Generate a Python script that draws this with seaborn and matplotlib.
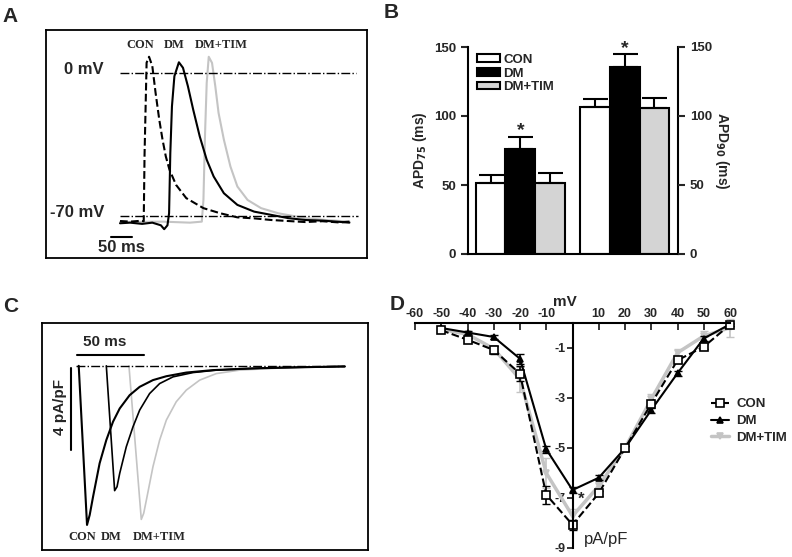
import numpy as np
import pandas as pd
import matplotlib
matplotlib.use("Agg")
import matplotlib.pyplot as plt
import seaborn as sns

sns.set_style("white")
plt.rcParams["font.family"] = ["Liberation Sans", "DejaVu Sans"]
plt.rcParams["font.weight"] = "bold"
plt.rcParams["axes.unicode_minus"] = False

# ---------- panel A: action potentials (ms, mV) ----------
a_con_t = [181, 206, 231, 239, 241, 246, 252, 260, 268, 277, 285, 293, 302, 318, 343,
           385, 426, 468, 509, 551, 593, 634, 676, 717, 742]
a_con_v = [-72.5, -72.8, -72.4, -72.6, -40, 5, 7.9, 3.3, -9.8, -22.9, -32.7, -40.9, -47.4,
           -54.8, -61.3, -66.2, -68.7, -70.7, -71.2, -72, -72.5, -73, -72.6, -73.2, -72.8]
a_dm_t = [181, 206, 235, 260, 281, 289, 297, 301, 304, 308, 314, 325, 335, 347, 360, 376,
          393, 410, 435, 468, 509, 551, 593, 634, 676, 717, 742]
a_dm_v = [-73.6, -73.3, -73.9, -73.3, -74.6, -76.5, -74.6, -68.7, -39.3, -16.4, -1.6, 5.2,
          2.5, -6.5, -18, -31.1, -42.5, -50.7, -58.9, -64.6, -67.9, -69.5, -71.1, -72.0,
          -72.3, -72.9, -73.3]
a_tim_t = [181, 285, 352, 381, 385, 389, 393, 398, 406, 414, 422, 435, 451, 468, 493, 526,
           568, 634, 684, 742]
a_tim_v = [-73, -72.8, -73.3, -72.8, -62.2, -29.4, -4.9, 7.9, 4.9, -6.5, -19.6, -32.7,
           -45.8, -55.6, -62.2, -66.2, -68.7, -71.1, -72.0, -72.8]

# ---------- panel B: APD bars ----------
apd_groups = ["CON", "DM", "DM+TIM"]
apd_measures = ["APD75", "APD90"]
apd75_mean = [51.8, 75.8, 51.8]
apd75_err = [5.7, 9.2, 6.7]
apd90_mean = [106.4, 135.6, 105.5]
apd90_err = [5.6, 9.1, 7.5]

# ---------- panel C: current traces (ms, pA/pF) ----------
c_con_t = [27.4, 33.6, 35.6, 38.1, 43.0, 48.0, 53.0, 58.0, 65.4, 72.9, 82.8, 92.8, 107.7,
           127.6, 155.0, 192.3, 225.9]
c_con_i = [0, -7.80, -7.31, -6.42, -4.78, -3.64, -2.74, -2.09, -1.44, -1.03, -0.70, -0.51,
           -0.33, -0.21, -0.13, -0.07, -0.03]
c_dm_t = [48.0, 54.2, 56.0, 58.0, 62.9, 67.9, 72.9, 80.3, 87.8, 97.8, 112.7, 130.1, 167.4, 225.9]
c_dm_i = [0, -6.12, -5.93, -5.27, -3.97, -2.99, -2.17, -1.36, -0.87, -0.54, -0.33, -0.21,
          -0.10, -0.03]
c_tim_t = [64.9, 74.1, 75.9, 77.9, 82.8, 87.8, 92.8, 100.2, 107.7, 117.7, 130.1, 147.5,
           179.9, 225.9]
c_tim_i = [0, -7.53, -7.23, -6.58, -4.95, -3.64, -2.66, -1.76, -1.19, -0.70, -0.38, -0.21,
           -0.10, -0.03]

# ---------- panel D: I-V curve ----------
mv = [-50, -40, -30, -20, -10, 0, 10, 20, 30, 40, 50, 60]
iv_con = [-0.29, -0.67, -1.08, -2.03, -6.87, -8.07, -6.81, -5.01, -3.23, -1.49, -0.95, -0.07]
iv_con_err = [0.08, 0.08, 0.15, 0.3, 0.35, 0.2, 0.1, 0.1, 0.1, 0.1, 0.1, 0.05]
iv_dm = [-0.2, -0.38, -0.56, -1.43, -5.05, -6.68, -6.19, -5.01, -3.48, -2.01, -0.62, -0.05]
iv_dm_err = [0.05, 0.05, 0.08, 0.2, 0.15, 0.12, 0.1, 0.1, 0.1, 0.1, 0.1, 0.05]
iv_tim = [-0.25, -0.45, -1.03, -2.25, -6.0, -7.72, -6.52, -5.0, -3.05, -1.19, -0.52, -0.19]
iv_tim_err = [0.05, 0.08, 0.1, 0.5, 0.6, 0.3, 0.15, 0.1, 0.2, 0.15, 0.2, 0.35]

gray = "#c4c4c4"
W, H = 792, 557
fig = plt.figure(figsize=(W / 100, H / 100), dpi=100)


def box(l, t, r, b):
    return [l / W, 1 - b / H, (r - l) / W, (b - t) / H]


serif = {"family": ["Liberation Serif", "DejaVu Serif"], "weight": "bold", "size": 9}

# ===== A =====
axA = fig.add_axes(box(46, 30, 367, 258))
sns.lineplot(x=a_tim_t, y=a_tim_v, color=gray, lw=1.5, ax=axA, sort=False)
sns.lineplot(x=a_dm_t, y=a_dm_v, color="black", lw=1.5, ax=axA, sort=False)
sns.lineplot(x=a_con_t, y=a_con_v, color="black", lw=1.5, ls="--", ax=axA, sort=False)
axA.plot([181, 759], [0, 0], color="black", lw=1, ls="-.")
axA.plot([181, 763], [-70, -70], color="black", lw=1, ls="-.")
axA.plot([160, 210], [-80.5, -80.5], color="black", lw=1.5)
axA.text(185, -85.5, "50 ms", ha="center", va="center", fontsize=12)
axA.text(92, 1.6, "0 mV", ha="center", va="center", fontsize=12)
axA.text(76, -68.2, "-70 mV", ha="center", va="center", fontsize=12)
axA.text(231, 13.9, "CON", ha="center", va="center", fontdict=serif)
axA.text(314, 13.9, "DM", ha="center", va="center", fontdict=serif)
axA.text(429, 13.9, "DM+TIM", ha="center", va="center", fontdict=serif)
axA.set_xlim(0, 785)
axA.set_ylim(-90.6, 21.0)
axA.set_xticks([])
axA.set_yticks([])
for s in axA.spines.values():
    s.set_linewidth(1.3)
    s.set_color("black")

# ===== B =====
axB = fig.add_axes(box(468, 47, 678, 254))
dfB = pd.DataFrame({
    "measure": np.repeat(apd_measures, 3),
    "group": apd_groups * 2,
    "value": apd75_mean + apd90_mean,
})
errB = {"APD75": apd75_err, "APD90": apd90_err}
sns.barplot(data=dfB, x="measure", y="value", hue="group", hue_order=apd_groups,
            palette=["white", "black", "#d4d4d4"], edgecolor="black", linewidth=1.5,
            width=0.856, errorbar=None, ax=axB)
bar_conts = list(axB.containers)
for gi, cont in enumerate(bar_conts):
    for mi, bar in enumerate(cont):
        e = errB[apd_measures[mi]][gi]
        xc = bar.get_x() + bar.get_width() / 2
        h = bar.get_height()
        axB.errorbar(xc, h, yerr=[[0], [e]], color="black", lw=1.5, capsize=9, capthick=1.5)
        if apd_groups[gi] == "DM":
            axB.text(xc, h + e - 2, "*", ha="center", va="bottom", fontsize=14)
axB.set_xlim(-0.502, 1.511)
axB.set_ylim(0, 150)
axB.set_yticks([0, 50, 100, 150])
axB.set_xticks([])
axB.set_xlabel("")
axB.set_ylabel("APD$_{75}$ (ms)", fontsize=10, fontweight="bold", labelpad=4)
axB.tick_params(axis="y", direction="out", length=5, width=1.5, labelsize=9.5, left=True)
sns.despine(ax=axB, top=True, right=False)
for s in ["left", "right", "bottom"]:
    axB.spines[s].set_linewidth(1.5)
    axB.spines[s].set_color("black")
axB2 = axB.twinx()
axB2.set_ylim(0, 150)
axB2.set_yticks([0, 50, 100, 150])
axB2.tick_params(axis="y", direction="out", length=5, width=1.5, labelsize=9.5, right=True)
axB2.set_ylabel("APD$_{90}$ (ms)", fontsize=10, fontweight="bold", rotation=270, labelpad=14)
for s in axB2.spines.values():
    s.set_visible(False)
axB.legend(loc="upper left", bbox_to_anchor=(9 / 210, 1 - 7 / 207), frameon=False,
           fontsize=9.5, handlelength=1.75, handleheight=0.55, labelspacing=0.12,
           handletextpad=0.25, borderaxespad=0, borderpad=0)

# ===== C =====
axC = fig.add_axes(box(42, 323, 368, 550))
sns.lineplot(x=c_tim_t, y=c_tim_i, color=gray, lw=1.2, ax=axC, sort=False)
sns.lineplot(x=c_dm_t, y=c_dm_i, color="black", lw=1.2, ax=axC, sort=False)
sns.lineplot(x=c_con_t, y=c_con_i, color="black", lw=1.5, ax=axC, sort=False)
axC.plot([25.6, 225.9], [0, 0], color="black", lw=1, ls="-.")
axC.plot([26.1, 76.1], [0.52, 0.52], color="black", lw=1.5)
axC.text(46.8, 1.18, "50 ms", ha="center", va="center", fontsize=11)
axC.plot([21.9, 21.9], [-0.13, -4.13], color="black", lw=1.5)
axC.text(13.2, -2.0, "4 pA/pF", ha="center", va="center", rotation=90, fontsize=11)
axC.text(29.9, -8.38, "CON", ha="center", va="center", fontdict=serif)
axC.text(51.7, -8.38, "DM", ha="center", va="center", fontdict=serif)
axC.text(87.8, -8.38, "DM+TIM", ha="center", va="center", fontdict=serif)
axC.set_xlim(0, 243.3)
axC.set_ylim(-9.03, 2.1)
axC.set_xticks([])
axC.set_yticks([])
for s in axC.spines.values():
    s.set_linewidth(1.3)
    s.set_color("black")

# ===== D =====
axD = fig.add_axes(box(415, 323, 730, 548))
series = [("DM+TIM", iv_tim, iv_tim_err, gray, "-", "v", gray, 2.5, 4),
          ("DM", iv_dm, iv_dm_err, "black", "-", "^", "black", 1.5, 4),
          ("CON", iv_con, iv_con_err, "black", "--", "s", "white", 1.5, 6)]
for name, y, e, col, ls, mk, mfc, lw, ms in series:
    axD.errorbar(mv, y, yerr=e, fmt="none", ecolor=col, elinewidth=1.2, capsize=3,
                 clip_on=False)
    sns.lineplot(x=mv, y=y, color=col, ls=ls, lw=lw, marker=mk, markersize=ms,
                 markerfacecolor=mfc, markeredgecolor=col, markeredgewidth=1.2,
                 ax=axD, clip_on=False, label=name)
axD.set_xlim(-60, 60)
axD.set_ylim(-9, 0)
axD.spines["left"].set_position(("data", 0))
axD.spines["right"].set_visible(False)
axD.spines["bottom"].set_visible(False)
for s in ["left", "top"]:
    axD.spines[s].set_linewidth(1.5)
    axD.spines[s].set_color("black")
axD.xaxis.tick_top()
axD.set_xticks([-60, -50, -40, -30, -20, -10, 10, 20, 30, 40, 50, 60])
axD.set_yticks([-1, -3, -5, -7, -9])
axD.tick_params(axis="x", direction="in", length=5, width=1.3, labelsize=9, pad=2, top=True)
axD.tick_params(axis="y", direction="out", length=4, width=1.3, labelsize=9, pad=1, left=True)
axD.text(-3, 0.85, "mV", ha="center", va="center", fontsize=11)
axD.text(4.5, -8.65, "pA/pF", ha="left", va="center", fontsize=12, fontweight="normal")
axD.text(3.2, -7.05, "*", ha="center", va="center", fontsize=12)
h, l = axD.get_legend_handles_labels()
order = [l.index("CON"), l.index("DM"), l.index("DM+TIM")]
axD.legend([h[i] for i in order], [l[i] for i in order], loc="center left",
           bbox_to_anchor=(711 / W, 1 - 421 / H), bbox_transform=fig.transFigure,
           frameon=False, fontsize=9.5, handlelength=1.4, labelspacing=0.35,
           handletextpad=0.5, borderaxespad=0, borderpad=0)

# panel letters
for lab, x, y in [("A", 10, 17), ("B", 391, 12), ("C", 11, 306), ("D", 397, 304)]:
    fig.text(x / W, 1 - y / H, lab, fontsize=15, fontweight="bold", ha="center", va="center")

fig.savefig("out.png", dpi=100)
